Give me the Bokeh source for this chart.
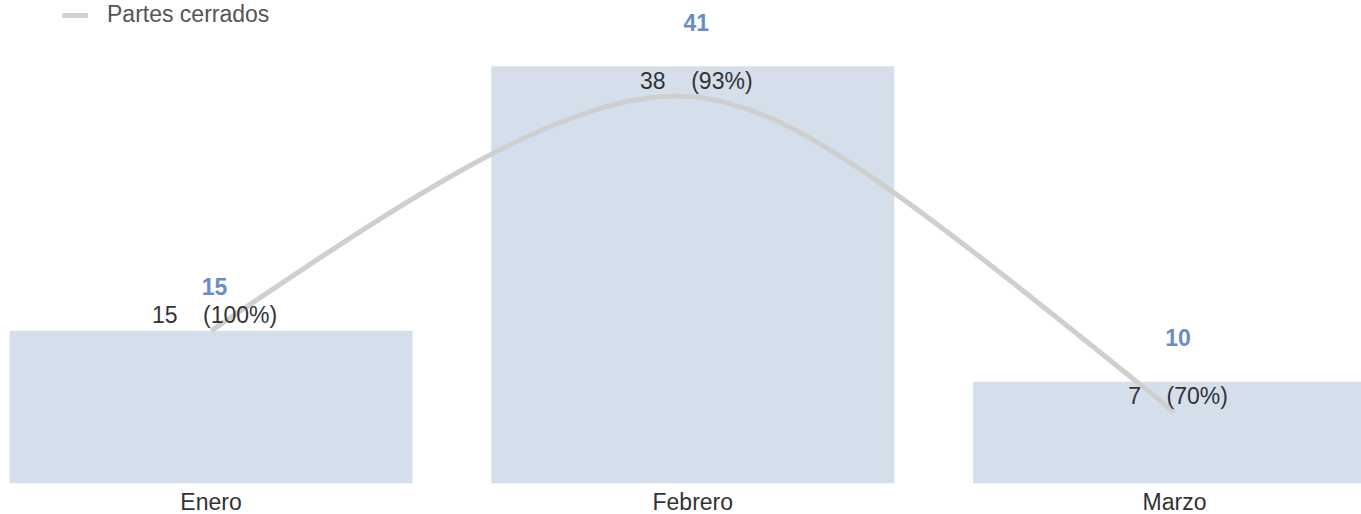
from bokeh.plotting import figure
from bokeh.models import Range1d, FixedTicker, Legend, LegendItem
from bokeh.core.properties import value
from bokeh.embed import file_html
from bokeh.resources import INLINE

# ---- data ----
categories = ["Enero", "Febrero", "Marzo"]
partes_total = [15, 41, 10]
partes_cerrados = [15, 38, 7]
porcentajes = [100, 93, 70]

FONT = "Liberation Sans"
BAR_COLOR = "#d5dfeb"
BLUE = "#6b8cc7"
LINE_COLOR = "#cfcfcf"

xs = list(range(len(categories)))

p = figure(width=1361, height=517,
           x_range=Range1d(-0.437, 2.388), y_range=Range1d(0, 47.45),
           output_backend="svg", toolbar_location=None,
           min_border_left=0, min_border_right=0, min_border_top=0, min_border_bottom=34,
           styles={"margin": "0px 0px -8px 0px"})
p.outline_line_color = None
p.background_fill_color = "white"
p.border_fill_color = "white"
p.xgrid.visible = False
p.ygrid.visible = False
p.yaxis.visible = False

# x axis with category labels
p.xaxis.ticker = FixedTicker(ticks=xs)
p.xaxis.major_label_overrides = {i: c for i, c in zip(xs, categories)}
p.xaxis.axis_line_color = None
p.xaxis.major_tick_line_color = None
p.xaxis.minor_tick_line_color = None
p.xaxis.major_tick_out = 0
p.xaxis.major_label_standoff = 5
p.xaxis.major_label_text_font = FONT
p.xaxis.major_label_text_font_size = "23px"
p.xaxis.major_label_text_color = "#333333"

# bars
p.vbar(x=xs, top=partes_total, width=0.8365, bottom=0,
       fill_color=BAR_COLOR, line_color=None)

# smooth line: cubic bezier segments whose control points derive from the data
T_IN, T_OUT = 0.125, 0.105     # tangent factors at interior points
K_START, K_END = 0.55, 0.7     # end-segment control factors
pts = list(zip(xs, partes_cerrados))
n = len(pts)
out_cp = [None] * n
in_cp = [None] * n
for i in range(1, n - 1):
    (xp, yp), (xc, yc), (xn, yn) = pts[i - 1], pts[i], pts[i + 1]
    tx, ty = xn - xp, yn - yp
    in_cp[i] = (xc - T_IN * tx, yc - T_IN * ty)
    out_cp[i] = (xc + T_OUT * tx, yc + T_OUT * ty)
if n > 2:
    x0, y0 = pts[0]
    out_cp[0] = (x0 + K_START * (in_cp[1][0] - x0), y0 + K_START * (in_cp[1][1] - y0))
    xl, yl = pts[-1]
    in_cp[-1] = (xl + K_END * (out_cp[-2][0] - xl), yl + K_END * (out_cp[-2][1] - yl))
else:
    out_cp[0] = pts[0]
    in_cp[-1] = pts[-1]

seg = dict(x0=[], y0=[], x1=[], y1=[], cx0=[], cy0=[], cx1=[], cy1=[])
for i in range(n - 1):
    seg["x0"].append(pts[i][0]); seg["y0"].append(pts[i][1])
    seg["x1"].append(pts[i + 1][0]); seg["y1"].append(pts[i + 1][1])
    seg["cx0"].append(out_cp[i][0]); seg["cy0"].append(out_cp[i][1])
    seg["cx1"].append(in_cp[i + 1][0]); seg["cy1"].append(in_cp[i + 1][1])

p.bezier(**seg, line_color=LINE_COLOR, line_width=5)

# dummy line renderer for the legend
legend_line = p.line(x=[0], y=[float("nan")], line_color=LINE_COLOR, line_width=5)

# labels on the bars (totals)
p.text(x=xs, y=partes_total, text=[str(v) for v in partes_total],
       x_offset=3.5, y_offset=-44,
       text_font=value(FONT), text_font_size="23px", text_font_style="bold",
       text_color=BLUE, text_align="center", text_baseline="middle")

# labels on the line
NB = "\u00a0" * 4
line_labels = [f"{c}{NB}({pc}%)" for c, pc in zip(partes_cerrados, porcentajes)]
p.text(x=xs, y=partes_cerrados, text=line_labels,
       x_offset=3.5, y_offset=-16,
       text_font=value(FONT), text_font_size="23px",
       text_color="#333333", text_align="center", text_baseline="middle")

legend = Legend(items=[LegendItem(label="Partes cerrados", renderers=[legend_line])],
                location=(62, 455), orientation="horizontal",
                glyph_width=26, glyph_height=20, label_standoff=19,
                label_text_font=FONT, label_text_font_size="23px",
                label_text_color="#555555",
                padding=0, margin=0, spacing=0,
                border_line_color=None, background_fill_alpha=0)
p.add_layout(legend)

open("out.html", "w").write(file_html(p, INLINE))
